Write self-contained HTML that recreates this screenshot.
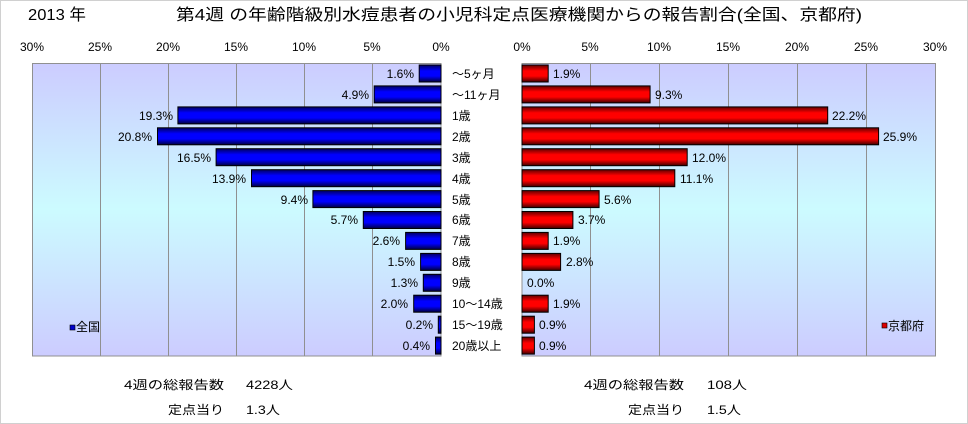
<!DOCTYPE html>
<html><head><meta charset="utf-8"><style>
body{margin:0;background:#fff}
svg{display:block}
text{font-family:"Liberation Sans","Noto Sans CJK JP",sans-serif;font-size:12px;fill:#000}
</style></head><body>
<svg width="968" height="424" xmlns="http://www.w3.org/2000/svg">
<defs>
<linearGradient id="bg" x1="0" y1="0" x2="0" y2="1">
<stop offset="0" stop-color="#ccccff"/><stop offset="0.5" stop-color="#ccfbff"/><stop offset="1" stop-color="#ccccff"/></linearGradient>
<linearGradient id="bl" x1="0" y1="0" x2="0" y2="1">
<stop offset="0" stop-color="#000060"/><stop offset="0.35" stop-color="#0000ff"/><stop offset="0.65" stop-color="#0000ff"/><stop offset="1" stop-color="#000040"/></linearGradient>
<linearGradient id="rd" x1="0" y1="0" x2="0" y2="1">
<stop offset="0" stop-color="#600000"/><stop offset="0.35" stop-color="#ff0000"/><stop offset="0.65" stop-color="#ff0000"/><stop offset="1" stop-color="#400000"/></linearGradient>
</defs>
<rect x="0.5" y="0.5" width="967" height="423" fill="#fff" stroke="#d0d0d0"/>
<text x="28" y="20" style="font-size:16px" textLength="58" lengthAdjust="spacingAndGlyphs">2013 年</text>
<text x="176" y="20" style="font-size:16px" textLength="686" lengthAdjust="spacingAndGlyphs">第4週 の年齢階級別水痘患者の小児科定点医療機関からの報告割合(全国、京都府)</text>
<rect x="32" y="63" width="409" height="293" fill="url(#bg)"/>
<rect x="522" y="63" width="413" height="293" fill="url(#bg)"/>
<g stroke="#909090" stroke-width="1">
<line x1="100.5" y1="63" x2="100.5" y2="356"/><line x1="168.5" y1="63" x2="168.5" y2="356"/><line x1="236.5" y1="63" x2="236.5" y2="356"/><line x1="304.5" y1="63" x2="304.5" y2="356"/><line x1="372.5" y1="63" x2="372.5" y2="356"/>
<line x1="590.5" y1="63" x2="590.5" y2="356"/><line x1="659.5" y1="63" x2="659.5" y2="356"/><line x1="728.5" y1="63" x2="728.5" y2="356"/><line x1="797.5" y1="63" x2="797.5" y2="356"/><line x1="866.5" y1="63" x2="866.5" y2="356"/>
<rect x="32.5" y="63.5" width="408.5" height="292.5" fill="none"/>
<rect x="522" y="63.5" width="413.5" height="292.5" fill="none"/>
</g>
<g text-anchor="middle">
<text x="32" y="51">30%</text><text x="100" y="51">25%</text><text x="168" y="51">20%</text><text x="236" y="51">15%</text><text x="304" y="51">10%</text><text x="372" y="51">5%</text><text x="441" y="51">0%</text>
<text x="522" y="51">0%</text><text x="590" y="51">5%</text><text x="659" y="51">10%</text><text x="728" y="51">15%</text><text x="797" y="51">20%</text><text x="866" y="51">25%</text><text x="935" y="51">30%</text>
</g>
<g fill="url(#bl)" stroke="#000" stroke-width="1">
<rect x="419.2" y="65" width="21.8" height="17"/>
<rect x="374.2" y="85.9" width="66.8" height="17"/>
<rect x="177.9" y="106.9" width="263.1" height="17"/>
<rect x="157.5" y="127.8" width="283.5" height="17"/>
<rect x="216.1" y="148.7" width="224.9" height="17"/>
<rect x="251.5" y="169.7" width="189.5" height="17"/>
<rect x="312.9" y="190.6" width="128.1" height="17"/>
<rect x="363.3" y="211.5" width="77.7" height="17"/>
<rect x="405.6" y="232.4" width="35.4" height="17"/>
<rect x="420.6" y="253.4" width="20.4" height="17"/>
<rect x="423.3" y="274.3" width="17.7" height="17"/>
<rect x="413.7" y="295.2" width="27.3" height="17"/>
<rect x="438.3" y="316.2" width="2.7" height="17"/>
<rect x="435.5" y="337.1" width="5.5" height="17"/>
</g>
<g fill="url(#rd)" stroke="#000" stroke-width="1">
<rect x="522" y="65" width="26.2" height="17"/>
<rect x="522" y="85.9" width="128.1" height="17"/>
<rect x="522" y="106.9" width="305.7" height="17"/>
<rect x="522" y="127.8" width="356.6" height="17"/>
<rect x="522" y="148.7" width="165.2" height="17"/>
<rect x="522" y="169.7" width="152.8" height="17"/>
<rect x="522" y="190.6" width="77.1" height="17"/>
<rect x="522" y="211.5" width="50.9" height="17"/>
<rect x="522" y="232.4" width="26.2" height="17"/>
<rect x="522" y="253.4" width="38.6" height="17"/>
<rect x="522" y="295.2" width="26.2" height="17"/>
<rect x="522" y="316.2" width="12.4" height="17"/>
<rect x="522" y="337.1" width="12.4" height="17"/>
</g>
<g text-anchor="end">
<text x="414" y="78">1.6%</text>
<text x="369" y="99">4.9%</text>
<text x="173" y="120">19.3%</text>
<text x="152" y="141">20.8%</text>
<text x="211" y="162">16.5%</text>
<text x="246" y="183">13.9%</text>
<text x="308" y="204">9.4%</text>
<text x="358" y="224">5.7%</text>
<text x="400" y="245">2.6%</text>
<text x="415" y="266">1.5%</text>
<text x="418" y="287">1.3%</text>
<text x="408" y="308">2.0%</text>
<text x="433" y="329">0.2%</text>
<text x="430" y="350">0.4%</text>
</g>
<g>
<text x="553" y="78">1.9%</text>
<text x="655" y="99">9.3%</text>
<text x="832" y="120">22.2%</text>
<text x="883" y="141">25.9%</text>
<text x="692" y="162">12.0%</text>
<text x="680" y="183">11.1%</text>
<text x="604" y="204">5.6%</text>
<text x="578" y="224">3.7%</text>
<text x="553" y="245">1.9%</text>
<text x="566" y="266">2.8%</text>
<text x="527" y="287">0.0%</text>
<text x="553" y="308">1.9%</text>
<text x="539" y="329">0.9%</text>
<text x="539" y="350">0.9%</text>
</g>
<g>
<text x="452" y="78">～5ヶ月</text>
<text x="452" y="99">～11ヶ月</text>
<text x="452" y="120">1歳</text>
<text x="452" y="141">2歳</text>
<text x="452" y="162">3歳</text>
<text x="452" y="183">4歳</text>
<text x="452" y="204">5歳</text>
<text x="452" y="224">6歳</text>
<text x="452" y="245">7歳</text>
<text x="452" y="266">8歳</text>
<text x="452" y="287">9歳</text>
<text x="452" y="308">10～14歳</text>
<text x="452" y="329">15～19歳</text>
<text x="452" y="350">20歳以上</text>
</g>
<rect x="70" y="325" width="5" height="5" fill="#0000cc" stroke="#000" stroke-width="0.6"/>
<text x="76" y="331">全国</text>
<rect x="882" y="323" width="5" height="5" fill="#dd0000" stroke="#000" stroke-width="0.6"/>
<text x="888" y="330">京都府</text>
<text x="124" y="389" textLength="100" lengthAdjust="spacingAndGlyphs">4週の総報告数</text><text x="246" y="389" textLength="47" lengthAdjust="spacingAndGlyphs">4228人</text>
<text x="168" y="414" textLength="56" lengthAdjust="spacingAndGlyphs">定点当り</text><text x="246" y="414" textLength="34" lengthAdjust="spacingAndGlyphs">1.3人</text>
<text x="584" y="389" textLength="100" lengthAdjust="spacingAndGlyphs">4週の総報告数</text><text x="707" y="389" textLength="40" lengthAdjust="spacingAndGlyphs">108人</text>
<text x="628" y="414" textLength="56" lengthAdjust="spacingAndGlyphs">定点当り</text><text x="707" y="414" textLength="34" lengthAdjust="spacingAndGlyphs">1.5人</text>
</svg>
</body></html>
